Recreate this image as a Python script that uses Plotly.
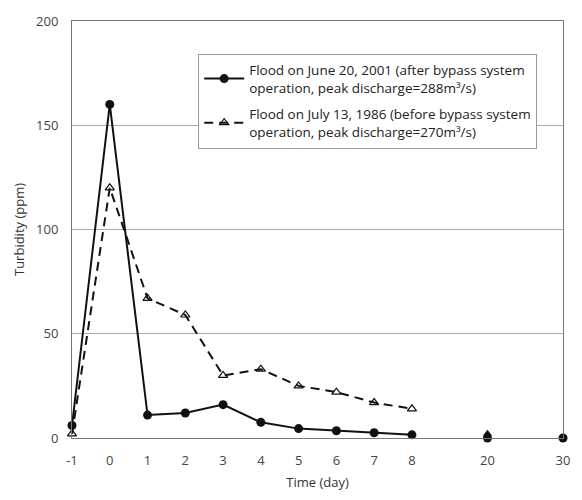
import plotly.graph_objects as go

# categories (axis positions); blank slots create the visual gap before 20 and 30
categories = ["-1", "0", "1", "2", "3", "4", "5", "6", "7", "8", " ", "20", "  ", "30"]

days_main = ["-1", "0", "1", "2", "3", "4", "5", "6", "7", "8"]
days_late = ["20", "30"]

flood_2001_main = [6, 160, 11, 12, 16, 7.5, 4.5, 3.5, 2.5, 1.5]
flood_2001_late = [0, 0]

flood_1986_main = [2, 120, 67, 59, 30, 33, 25, 22, 17, 14]
flood_1986_late = [2]

name_2001 = "Flood on June 20, 2001 (after bypass system<br>operation, peak discharge=288m³/s)"
name_1986 = "Flood on July 13, 1986 (before bypass system<br>operation, peak discharge=270m³/s)"

fig = go.Figure()

fig.add_trace(go.Scatter(
    x=days_main, y=flood_2001_main, mode="lines+markers", name=name_2001,
    line=dict(color="#111111", width=2),
    marker=dict(symbol="circle", size=9, color="#111111"),
    legendgroup="a", cliponaxis=False,
))
fig.add_trace(go.Scatter(
    x=days_main, y=flood_1986_main, mode="lines+markers", name=name_1986,
    line=dict(color="#111111", width=2, dash="9px,6px"),
    marker=dict(symbol="triangle-up-open", size=8, color="#111111", line=dict(width=1.2)),
    legendgroup="b", cliponaxis=False,
))
fig.add_trace(go.Scatter(
    x=days_late[:1], y=flood_1986_late, mode="markers", showlegend=False,
    marker=dict(symbol="triangle-up", size=8, color="#111111"),
    legendgroup="b", cliponaxis=False,
))
fig.add_trace(go.Scatter(
    x=days_late, y=flood_2001_late, mode="markers", showlegend=False,
    marker=dict(symbol="circle", size=9, color="#111111"),
    legendgroup="a", cliponaxis=False,
))

fig.update_layout(
    width=582, height=500,
    margin=dict(l=72, r=12, t=16, b=61),
    paper_bgcolor="white", plot_bgcolor="white",
    font=dict(family="Open Sans, DejaVu Sans, sans-serif", size=12, color="#333333"),
    showlegend=True,
    legend=dict(
        x=0.257, y=0.922, xanchor="left", yanchor="top",
        bgcolor="white", bordercolor="#999999", borderwidth=1,
        font=dict(size=13.5, color="#222222"),
        tracegroupgap=6, itemwidth=40,
    ),
)

fig.update_xaxes(
    type="category", categoryorder="array", categoryarray=categories,
    range=[0, 13], showgrid=False, zeroline=False,
    showline=True, linecolor="#777777", linewidth=1, mirror=True,
    ticks="outside", ticklen=10, tickcolor="rgba(0,0,0,0)",
    tickfont=dict(size=13, color="#444444"),
    title=dict(text="Time (day)", font=dict(size=13, color="#333333"), standoff=10),
)
fig.update_yaxes(
    range=[0, 200], tickvals=[0, 50, 100, 150, 200],
    showgrid=True, gridcolor="#aaaaaa", gridwidth=1, zeroline=False,
    showline=True, linecolor="#777777", linewidth=1, mirror=True,
    ticks="outside", ticklen=10, tickcolor="rgba(0,0,0,0)",
    tickfont=dict(size=13, color="#444444"),
    title=dict(text="Turbidity (ppm)", font=dict(size=13, color="#333333"), standoff=8),
)

fig.write_html("out.html")
